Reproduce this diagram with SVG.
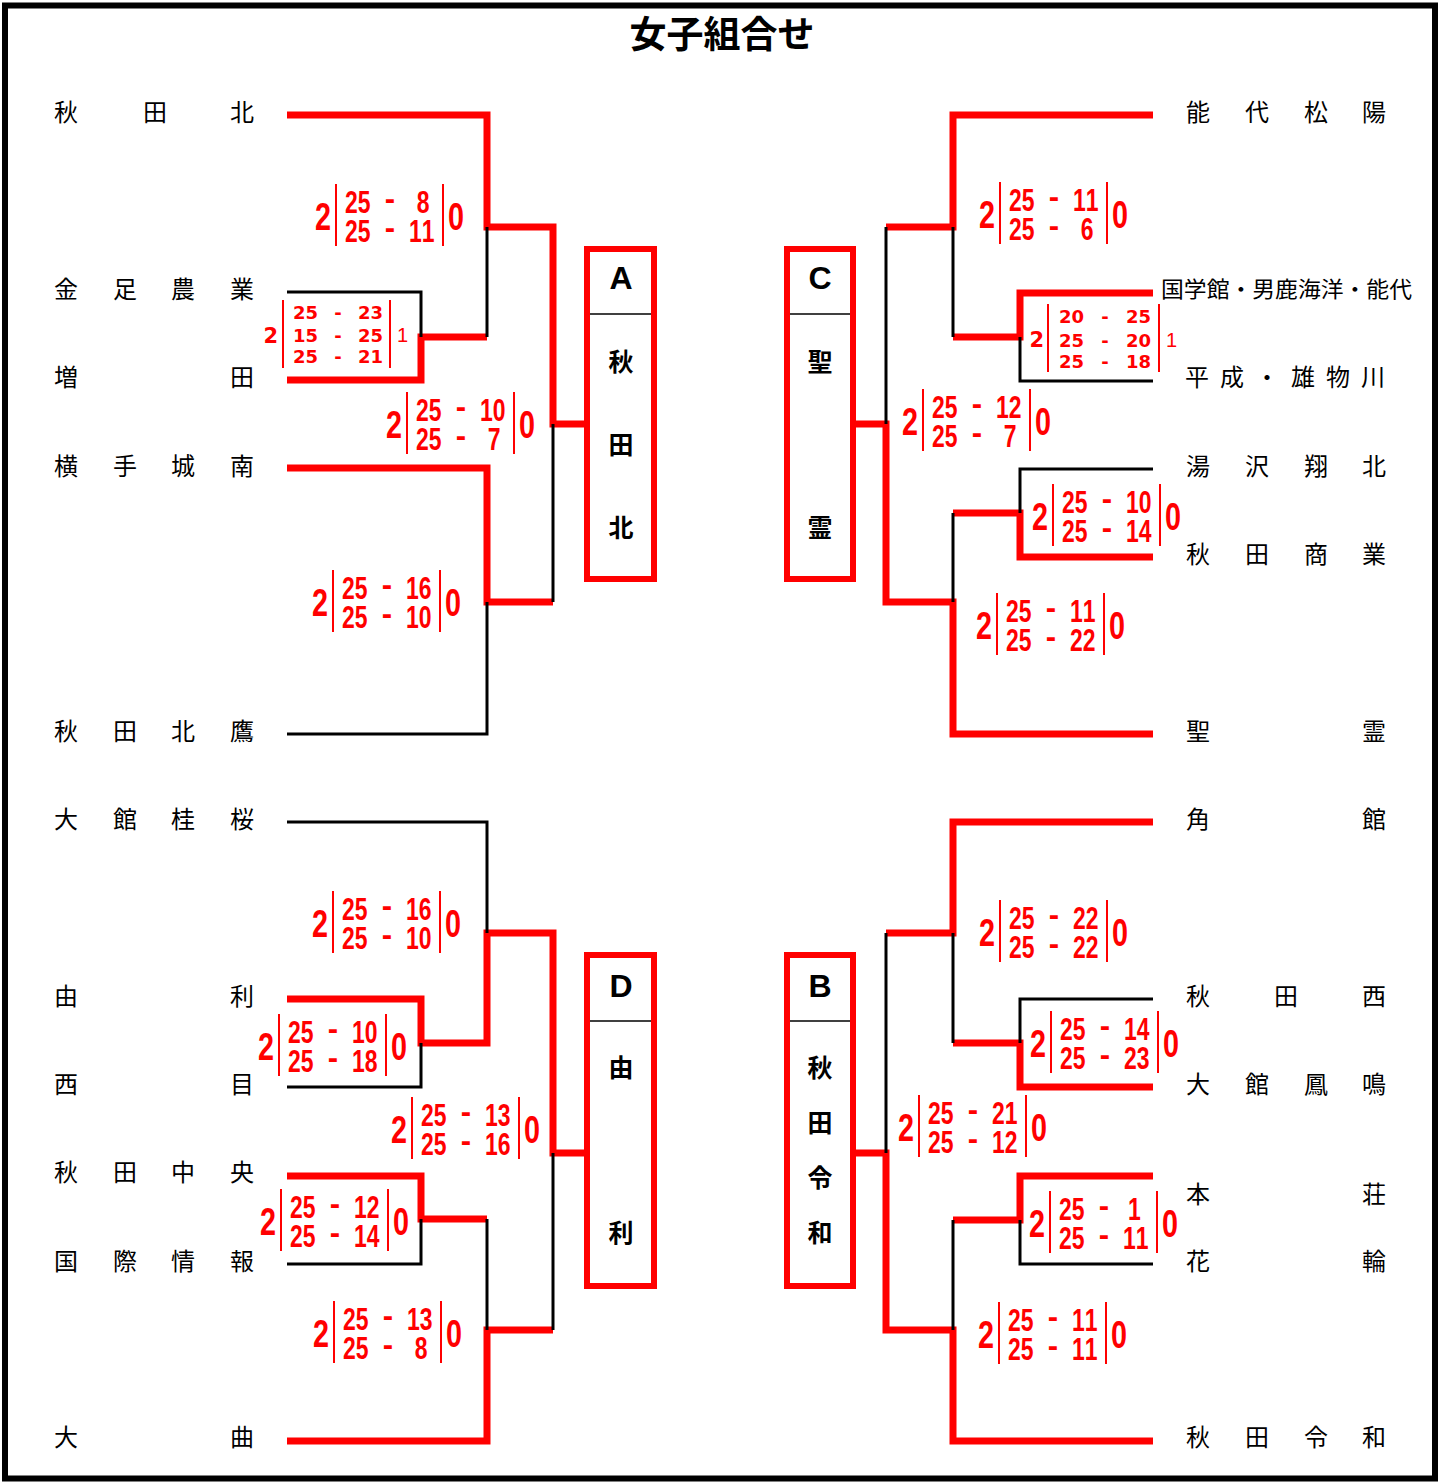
<svg xmlns="http://www.w3.org/2000/svg" width="1444" height="1484" viewBox="0 0 1444 1484">
<style>
.frame{fill:#fff;stroke:#000;stroke-width:6}
.r{fill:none;stroke:#f00;stroke-width:7;stroke-linejoin:miter;stroke-linecap:butt}
.k{fill:none;stroke:#000;stroke-width:3}
.bar{stroke:#f00;stroke-width:2}
.box{fill:#fff;stroke:#f00;stroke-width:6}
.div{stroke:#000;stroke-width:1.5}
.nm{font-family:"Noto Sans CJK JP","Noto Sans CJK SC",sans-serif;font-size:24px;fill:#000;text-anchor:middle}
.nms{font-family:"Noto Sans CJK JP","Noto Sans CJK SC",sans-serif;font-size:22px;fill:#000}
.title{font-family:"Noto Sans CJK JP",sans-serif;font-size:37px;font-weight:bold;fill:#000;text-anchor:middle}
.bl{font-family:"Liberation Sans",Arial,sans-serif;font-size:32px;font-weight:bold;fill:#000;text-anchor:middle}
.bk{font-family:"Noto Sans CJK JP",sans-serif;font-size:25px;font-weight:bold;fill:#000;text-anchor:middle}
.big{font-family:"Liberation Sans",Arial,sans-serif;font-size:39px;font-weight:bold;fill:#f00}
.sc{font-family:"Liberation Sans",Arial,sans-serif;font-size:31px;font-weight:bold;fill:#f00}
.s3{font-family:"DejaVu Sans","Liberation Sans",sans-serif;font-size:18px;font-weight:bold;fill:#f00}
.s3b{font-family:"DejaVu Sans","Liberation Sans",sans-serif;font-size:21px;font-weight:bold;fill:#f00}
.s3n{font-family:"Liberation Sans",Arial,sans-serif;font-size:20px;fill:#f00}
.e{text-anchor:end}
.m{text-anchor:middle}
</style>
<rect class="frame" x="5" y="5.5" width="1430" height="1473"/>
<text class="title" x="722" y="48">女子組合せ</text>

<g id="connectors">
<path class="r" d="M287,115 H487 V227 H553 V424 H587"/>
<path class="r" d="M287,380 H421 V337 H487"/>
<path class="r" d="M287,468 H487 V602 H553"/>
<path class="k" d="M287,292 H421 V337"/>
<path class="k" d="M487,227 V337"/>
<path class="k" d="M287,734 H487 V602"/>
<path class="k" d="M553,424 V602"/>
<path class="r" d="M1153,115 H953 V227 H886"/>
<path class="r" d="M1153,293 H1020 V337 H953"/>
<path class="r" d="M1153,557 H1020 V513 H953"/>
<path class="r" d="M1153,734 H953 V602 H886 V424 H853"/>
<path class="k" d="M886,227 V424"/>
<path class="k" d="M953,227 V337"/>
<path class="k" d="M1153,381 H1020 V337"/>
<path class="k" d="M1153,469 H1020 V513"/>
<path class="k" d="M953,513 V602"/>
<path class="r" d="M287,999 H421 V1043 H487 V933 H553 V1153 H587"/>
<path class="r" d="M287,1176 H421 V1219 H487"/>
<path class="r" d="M287,1441 H487 V1330 H553"/>
<path class="k" d="M287,822 H487 V933"/>
<path class="k" d="M287,1087 H421 V1043"/>
<path class="k" d="M287,1264 H421 V1219"/>
<path class="k" d="M487,1219 V1330"/>
<path class="k" d="M553,1153 V1330"/>
<path class="r" d="M1153,822 H953 V933 H886"/>
<path class="r" d="M1153,1087 H1020 V1043 H953"/>
<path class="r" d="M1153,1176 H1020 V1220 H953"/>
<path class="r" d="M1153,1441 H953 V1330 H886 V1153 H853"/>
<path class="k" d="M1153,999 H1020 V1043"/>
<path class="k" d="M953,933 V1043"/>
<path class="k" d="M1153,1264 H1020 V1220"/>
<path class="k" d="M953,1220 V1330"/>
<path class="k" d="M886,933 V1153"/>
</g>

<g id="t-akitakita"><text class="nm" x="66 155 242" y="121">秋田北</text></g>
<g id="t-kanaashi"><text class="nm" x="66 125 183 242" y="298">金足農業</text></g>
<g id="t-masuda"><text class="nm" x="66 242" y="386">増田</text></g>
<g id="t-yokote"><text class="nm" x="66 125 183 242" y="475">横手城南</text></g>
<g id="t-takanosu"><text class="nm" x="66 125 183 242" y="740">秋田北鷹</text></g>
<g id="t-odatekeio"><text class="nm" x="66 125 183 242" y="828">大館桂桜</text></g>
<g id="t-yuri"><text class="nm" x="66 242" y="1005">由利</text></g>
<g id="t-nishime"><text class="nm" x="66 242" y="1093">西目</text></g>
<g id="t-akitachuo"><text class="nm" x="66 125 183 242" y="1181">秋田中央</text></g>
<g id="t-kokusai"><text class="nm" x="66 125 183 242" y="1270">国際情報</text></g>
<g id="t-omagari"><text class="nm" x="66 242" y="1446">大曲</text></g>

<g id="t-noshiro"><text class="nm" x="1198 1257 1316 1374" y="121">能代松陽</text></g>
<g id="t-kokugakukan"><text class="nms" x="1161" y="297" textLength="251" lengthAdjust="spacingAndGlyphs">国学館・男鹿海洋・能代</text></g>
<g id="t-heisei"><text class="nm" x="1197 1232 1267 1303 1338 1373" y="386">平成・雄物川</text></g>
<g id="t-yuzawa"><text class="nm" x="1198 1257 1316 1374" y="475">湯沢翔北</text></g>
<g id="t-akitashogyo"><text class="nm" x="1198 1257 1316 1374" y="563">秋田商業</text></g>
<g id="t-seirei"><text class="nm" x="1198 1374" y="740">聖霊</text></g>
<g id="t-kakunodate"><text class="nm" x="1198 1374" y="828">角館</text></g>
<g id="t-akitanishi"><text class="nm" x="1198 1286 1374" y="1005">秋田西</text></g>
<g id="t-odatehomei"><text class="nm" x="1198 1257 1316 1374" y="1093">大館鳳鳴</text></g>
<g id="t-honjo"><text class="nm" x="1198 1374" y="1203">本荘</text></g>
<g id="t-hanawa"><text class="nm" x="1198 1374" y="1270">花輪</text></g>
<g id="t-akitareiwa"><text class="nm" x="1198 1257 1316 1374" y="1446">秋田令和</text></g>

<g id="box-A">
<rect class="box" x="587" y="249" width="67" height="330"/>
<line class="div" x1="590" y1="314" x2="651" y2="314"/>
<text class="bl" x="621" y="289">A</text>
<text class="bk" x="621" y="371">秋</text>
<text class="bk" x="621" y="454">田</text>
<text class="bk" x="621" y="537">北</text>
</g>
<g id="box-C">
<rect class="box" x="787" y="249" width="66" height="330"/>
<line class="div" x1="790" y1="314" x2="850" y2="314"/>
<text class="bl" x="820" y="289">C</text>
<text class="bk" x="820" y="371">聖</text>
<text class="bk" x="820" y="537">霊</text>
</g>
<g id="box-D">
<rect class="box" x="587" y="955" width="67" height="331"/>
<line class="div" x1="590" y1="1021" x2="651" y2="1021"/>
<text class="bl" x="621" y="997">D</text>
<text class="bk" x="621" y="1077">由</text>
<text class="bk" x="621" y="1242">利</text>
</g>
<g id="box-B">
<rect class="box" x="787" y="955" width="66" height="331"/>
<line class="div" x1="790" y1="1021" x2="850" y2="1021"/>
<text class="bl" x="820" y="997">B</text>
<text class="bk" x="820" y="1077">秋</text>
<text class="bk" x="820" y="1132">田</text>
<text class="bk" x="820" y="1187">令</text>
<text class="bk" x="820" y="1242">和</text>
</g>

<g id="sc1" transform="translate(336,215)">
<text class="big e" x="-5" y="15" textLength="16" lengthAdjust="spacingAndGlyphs">2</text><line class="bar" x1="0" y1="-31" x2="0" y2="31"/>
<g transform="scale(0.74,1)"><text class="sc" x="12.2 29.4 12.2 29.4" y="-2 -2 27 27">2525</text><text class="sc" x="109.1 98.6 115.9" y="-2 27 27">811</text></g>
<text class="sc m" x="54 54" y="-6 23">--</text>
<line class="bar" x1="107" y1="-31" x2="107" y2="31"/><text class="big" x="112" y="15" textLength="16" lengthAdjust="spacingAndGlyphs">0</text>
</g>
<g id="sc2" transform="translate(407,423)">
<text class="big e" x="-5" y="15" textLength="16" lengthAdjust="spacingAndGlyphs">2</text><line class="bar" x1="0" y1="-31" x2="0" y2="31"/>
<g transform="scale(0.74,1)"><text class="sc" x="12.2 29.4 12.2 29.4" y="-2 -2 27 27">2525</text><text class="sc" x="98.6 115.9 109.1" y="-2 -2 27">107</text></g>
<text class="sc m" x="54 54" y="-6 23">--</text>
<line class="bar" x1="107" y1="-31" x2="107" y2="31"/><text class="big" x="112" y="15" textLength="16" lengthAdjust="spacingAndGlyphs">0</text>
</g>
<g id="sc3" transform="translate(333,601)">
<text class="big e" x="-5" y="15" textLength="16" lengthAdjust="spacingAndGlyphs">2</text><line class="bar" x1="0" y1="-31" x2="0" y2="31"/>
<g transform="scale(0.74,1)"><text class="sc" x="12.2 29.4 12.2 29.4" y="-2 -2 27 27">2525</text><text class="sc" x="98.6 115.9 98.6 115.9" y="-2 -2 27 27">1610</text></g>
<text class="sc m" x="54 54" y="-6 23">--</text>
<line class="bar" x1="107" y1="-31" x2="107" y2="31"/><text class="big" x="112" y="15" textLength="16" lengthAdjust="spacingAndGlyphs">0</text>
</g>
<g id="sc4" transform="translate(1000,213)">
<text class="big e" x="-5" y="15" textLength="16" lengthAdjust="spacingAndGlyphs">2</text><line class="bar" x1="0" y1="-31" x2="0" y2="31"/>
<g transform="scale(0.74,1)"><text class="sc" x="12.2 29.4 12.2 29.4" y="-2 -2 27 27">2525</text><text class="sc" x="98.6 115.9 109.1" y="-2 -2 27">116</text></g>
<text class="sc m" x="54 54" y="-6 23">--</text>
<line class="bar" x1="107" y1="-31" x2="107" y2="31"/><text class="big" x="112" y="15" textLength="16" lengthAdjust="spacingAndGlyphs">0</text>
</g>
<g id="sc5" transform="translate(923,420)">
<text class="big e" x="-5" y="15" textLength="16" lengthAdjust="spacingAndGlyphs">2</text><line class="bar" x1="0" y1="-31" x2="0" y2="31"/>
<g transform="scale(0.74,1)"><text class="sc" x="12.2 29.4 12.2 29.4" y="-2 -2 27 27">2525</text><text class="sc" x="98.6 115.9 109.1" y="-2 -2 27">127</text></g>
<text class="sc m" x="54 54" y="-6 23">--</text>
<line class="bar" x1="107" y1="-31" x2="107" y2="31"/><text class="big" x="112" y="15" textLength="16" lengthAdjust="spacingAndGlyphs">0</text>
</g>
<g id="sc6" transform="translate(1053,515)">
<text class="big e" x="-5" y="15" textLength="16" lengthAdjust="spacingAndGlyphs">2</text><line class="bar" x1="0" y1="-31" x2="0" y2="31"/>
<g transform="scale(0.74,1)"><text class="sc" x="12.2 29.4 12.2 29.4" y="-2 -2 27 27">2525</text><text class="sc" x="98.6 115.9 98.6 115.9" y="-2 -2 27 27">1014</text></g>
<text class="sc m" x="54 54" y="-6 23">--</text>
<line class="bar" x1="107" y1="-31" x2="107" y2="31"/><text class="big" x="112" y="15" textLength="16" lengthAdjust="spacingAndGlyphs">0</text>
</g>
<g id="sc7" transform="translate(997,624)">
<text class="big e" x="-5" y="15" textLength="16" lengthAdjust="spacingAndGlyphs">2</text><line class="bar" x1="0" y1="-31" x2="0" y2="31"/>
<g transform="scale(0.74,1)"><text class="sc" x="12.2 29.4 12.2 29.4" y="-2 -2 27 27">2525</text><text class="sc" x="98.6 115.9 98.6 115.9" y="-2 -2 27 27">1122</text></g>
<text class="sc m" x="54 54" y="-6 23">--</text>
<line class="bar" x1="107" y1="-31" x2="107" y2="31"/><text class="big" x="112" y="15" textLength="16" lengthAdjust="spacingAndGlyphs">0</text>
</g>
<g id="sc8" transform="translate(333,922)">
<text class="big e" x="-5" y="15" textLength="16" lengthAdjust="spacingAndGlyphs">2</text><line class="bar" x1="0" y1="-31" x2="0" y2="31"/>
<g transform="scale(0.74,1)"><text class="sc" x="12.2 29.4 12.2 29.4" y="-2 -2 27 27">2525</text><text class="sc" x="98.6 115.9 98.6 115.9" y="-2 -2 27 27">1610</text></g>
<text class="sc m" x="54 54" y="-6 23">--</text>
<line class="bar" x1="107" y1="-31" x2="107" y2="31"/><text class="big" x="112" y="15" textLength="16" lengthAdjust="spacingAndGlyphs">0</text>
</g>
<g id="sc9" transform="translate(279,1045)">
<text class="big e" x="-5" y="15" textLength="16" lengthAdjust="spacingAndGlyphs">2</text><line class="bar" x1="0" y1="-31" x2="0" y2="31"/>
<g transform="scale(0.74,1)"><text class="sc" x="12.2 29.4 12.2 29.4" y="-2 -2 27 27">2525</text><text class="sc" x="98.6 115.9 98.6 115.9" y="-2 -2 27 27">1018</text></g>
<text class="sc m" x="54 54" y="-6 23">--</text>
<line class="bar" x1="107" y1="-31" x2="107" y2="31"/><text class="big" x="112" y="15" textLength="16" lengthAdjust="spacingAndGlyphs">0</text>
</g>
<g id="sc10" transform="translate(412,1128)">
<text class="big e" x="-5" y="15" textLength="16" lengthAdjust="spacingAndGlyphs">2</text><line class="bar" x1="0" y1="-31" x2="0" y2="31"/>
<g transform="scale(0.74,1)"><text class="sc" x="12.2 29.4 12.2 29.4" y="-2 -2 27 27">2525</text><text class="sc" x="98.6 115.9 98.6 115.9" y="-2 -2 27 27">1316</text></g>
<text class="sc m" x="54 54" y="-6 23">--</text>
<line class="bar" x1="107" y1="-31" x2="107" y2="31"/><text class="big" x="112" y="15" textLength="16" lengthAdjust="spacingAndGlyphs">0</text>
</g>
<g id="sc11" transform="translate(281,1220)">
<text class="big e" x="-5" y="15" textLength="16" lengthAdjust="spacingAndGlyphs">2</text><line class="bar" x1="0" y1="-31" x2="0" y2="31"/>
<g transform="scale(0.74,1)"><text class="sc" x="12.2 29.4 12.2 29.4" y="-2 -2 27 27">2525</text><text class="sc" x="98.6 115.9 98.6 115.9" y="-2 -2 27 27">1214</text></g>
<text class="sc m" x="54 54" y="-6 23">--</text>
<line class="bar" x1="107" y1="-31" x2="107" y2="31"/><text class="big" x="112" y="15" textLength="16" lengthAdjust="spacingAndGlyphs">0</text>
</g>
<g id="sc12" transform="translate(334,1332)">
<text class="big e" x="-5" y="15" textLength="16" lengthAdjust="spacingAndGlyphs">2</text><line class="bar" x1="0" y1="-31" x2="0" y2="31"/>
<g transform="scale(0.74,1)"><text class="sc" x="12.2 29.4 12.2 29.4" y="-2 -2 27 27">2525</text><text class="sc" x="98.6 115.9 109.1" y="-2 -2 27">138</text></g>
<text class="sc m" x="54 54" y="-6 23">--</text>
<line class="bar" x1="107" y1="-31" x2="107" y2="31"/><text class="big" x="112" y="15" textLength="16" lengthAdjust="spacingAndGlyphs">0</text>
</g>
<g id="sc13" transform="translate(1000,931)">
<text class="big e" x="-5" y="15" textLength="16" lengthAdjust="spacingAndGlyphs">2</text><line class="bar" x1="0" y1="-31" x2="0" y2="31"/>
<g transform="scale(0.74,1)"><text class="sc" x="12.2 29.4 12.2 29.4" y="-2 -2 27 27">2525</text><text class="sc" x="98.6 115.9 98.6 115.9" y="-2 -2 27 27">2222</text></g>
<text class="sc m" x="54 54" y="-6 23">--</text>
<line class="bar" x1="107" y1="-31" x2="107" y2="31"/><text class="big" x="112" y="15" textLength="16" lengthAdjust="spacingAndGlyphs">0</text>
</g>
<g id="sc14" transform="translate(1051,1042)">
<text class="big e" x="-5" y="15" textLength="16" lengthAdjust="spacingAndGlyphs">2</text><line class="bar" x1="0" y1="-31" x2="0" y2="31"/>
<g transform="scale(0.74,1)"><text class="sc" x="12.2 29.4 12.2 29.4" y="-2 -2 27 27">2525</text><text class="sc" x="98.6 115.9 98.6 115.9" y="-2 -2 27 27">1423</text></g>
<text class="sc m" x="54 54" y="-6 23">--</text>
<line class="bar" x1="107" y1="-31" x2="107" y2="31"/><text class="big" x="112" y="15" textLength="16" lengthAdjust="spacingAndGlyphs">0</text>
</g>
<g id="sc15" transform="translate(919,1126)">
<text class="big e" x="-5" y="15" textLength="16" lengthAdjust="spacingAndGlyphs">2</text><line class="bar" x1="0" y1="-31" x2="0" y2="31"/>
<g transform="scale(0.74,1)"><text class="sc" x="12.2 29.4 12.2 29.4" y="-2 -2 27 27">2525</text><text class="sc" x="98.6 115.9 98.6 115.9" y="-2 -2 27 27">2112</text></g>
<text class="sc m" x="54 54" y="-6 23">--</text>
<line class="bar" x1="107" y1="-31" x2="107" y2="31"/><text class="big" x="112" y="15" textLength="16" lengthAdjust="spacingAndGlyphs">0</text>
</g>
<g id="sc16" transform="translate(1050,1222)">
<text class="big e" x="-5" y="15" textLength="16" lengthAdjust="spacingAndGlyphs">2</text><line class="bar" x1="0" y1="-31" x2="0" y2="31"/>
<g transform="scale(0.74,1)"><text class="sc" x="12.2 29.4 12.2 29.4" y="-2 -2 27 27">2525</text><text class="sc" x="105.4 98.6 115.9" y="-2 27 27">111</text></g>
<text class="sc m" x="54 54" y="-6 23">--</text>
<line class="bar" x1="107" y1="-31" x2="107" y2="31"/><text class="big" x="112" y="15" textLength="16" lengthAdjust="spacingAndGlyphs">0</text>
</g>
<g id="sc17" transform="translate(999,1333)">
<text class="big e" x="-5" y="15" textLength="16" lengthAdjust="spacingAndGlyphs">2</text><line class="bar" x1="0" y1="-31" x2="0" y2="31"/>
<g transform="scale(0.74,1)"><text class="sc" x="12.2 29.4 12.2 29.4" y="-2 -2 27 27">2525</text><text class="sc" x="98.6 115.9 98.6 115.9" y="-2 -2 27 27">1111</text></g>
<text class="sc m" x="54 54" y="-6 23">--</text>
<line class="bar" x1="107" y1="-31" x2="107" y2="31"/><text class="big" x="112" y="15" textLength="16" lengthAdjust="spacingAndGlyphs">0</text>
</g>

<g id="sc3a" transform="translate(283,334)">
<text class="s3b e" x="-5" y="9">2</text><line class="bar" x1="0" y1="-34" x2="0" y2="34"/>
<text class="s3"><tspan x="10" y="-15">25</tspan><tspan x="10" y="8">15</tspan><tspan x="10" y="29">25</tspan></text>
<text class="s3 m"><tspan x="55" y="-15">-</tspan><tspan x="55" y="8">-</tspan><tspan x="55" y="29">-</tspan></text>
<text class="s3 e"><tspan x="100" y="-15">23</tspan><tspan x="100" y="8">25</tspan><tspan x="100" y="29">21</tspan></text>
<line class="bar" x1="107" y1="-34" x2="107" y2="34"/><text class="s3n" x="114" y="8">1</text>
</g>
<g id="sc3b" transform="translate(1048,338)">
<text class="s3b e" x="-4" y="9">2</text><line class="bar" x1="0" y1="-34" x2="0" y2="34"/>
<text class="s3"><tspan x="11" y="-15">20</tspan><tspan x="11" y="9">25</tspan><tspan x="11" y="30">25</tspan></text>
<text class="s3 m"><tspan x="57" y="-15">-</tspan><tspan x="57" y="9">-</tspan><tspan x="57" y="30">-</tspan></text>
<text class="s3 e"><tspan x="103" y="-15">25</tspan><tspan x="103" y="9">20</tspan><tspan x="103" y="30">18</tspan></text>
<line class="bar" x1="111" y1="-34" x2="111" y2="34"/><text class="s3n" x="118" y="9">1</text>
</g>
</svg>
